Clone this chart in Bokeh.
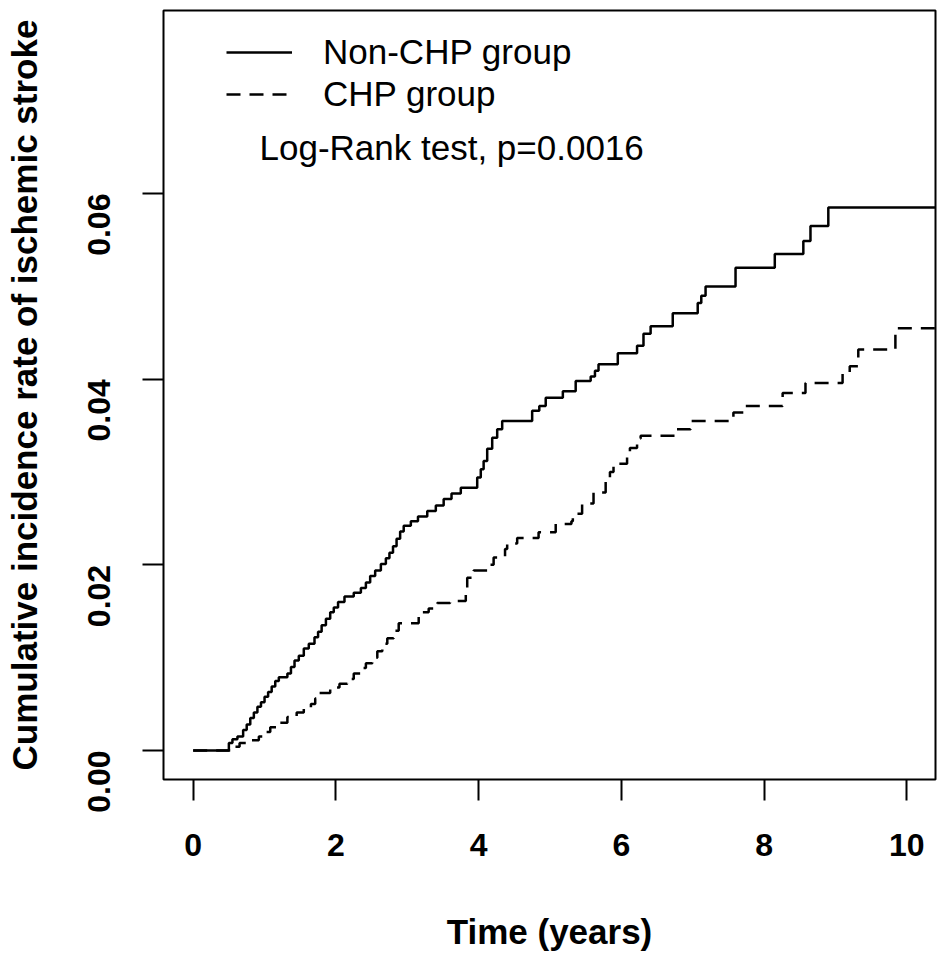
import math
from bokeh.plotting import figure
from bokeh.models import Range1d, Legend, LegendItem, Label, FixedTicker, PrintfTickFormatter
from bokeh.embed import file_html
from bokeh.resources import INLINE

# ---- data ----
time_non_chp = [0.00, 0.50, 0.55, 0.62, 0.70, 0.75, 0.80, 0.85, 0.90, 0.95, 1.00, 1.05, 1.10, 1.15, 1.20,
                1.32, 1.37, 1.42, 1.48, 1.55, 1.62, 1.70, 1.75, 1.80, 1.86, 1.92, 1.97, 2.03, 2.12, 2.25,
                2.35, 2.42, 2.48, 2.55, 2.63, 2.70, 2.75, 2.80, 2.85, 2.90, 2.95, 3.05, 3.15, 3.28, 3.40,
                3.51, 3.62, 3.75, 3.98, 4.03, 4.07, 4.12, 4.19, 4.26, 4.33, 4.75, 4.85, 4.94, 5.18, 5.36,
                5.57, 5.63, 5.68, 5.95, 6.22, 6.31, 6.41, 6.72, 7.07, 7.12, 7.18, 7.60, 8.15, 8.55, 8.65,
                8.90, 10.45]
cum_non_chp = [0.0000, 0.0008, 0.0012, 0.0015, 0.0022, 0.0028, 0.0035, 0.0041, 0.0047, 0.0052, 0.0058, 0.0063, 0.0069, 0.0075, 0.0079,
               0.0083, 0.0090, 0.0097, 0.0102, 0.0110, 0.0115, 0.0122, 0.0128, 0.0135, 0.0142, 0.0149, 0.0154, 0.0160, 0.0166, 0.0170,
               0.0175, 0.0181, 0.0188, 0.0194, 0.0201, 0.0207, 0.0213, 0.0220, 0.0228, 0.0236, 0.0242, 0.0247, 0.0252, 0.0258, 0.0264,
               0.0271, 0.0277, 0.0283, 0.0294, 0.0303, 0.0312, 0.0325, 0.0337, 0.0346, 0.0355, 0.0366, 0.0371, 0.0380, 0.0387, 0.0398,
               0.0403, 0.0409, 0.0416, 0.0428, 0.0436, 0.0449, 0.0457, 0.0471, 0.0482, 0.0490, 0.0500, 0.0520, 0.0535, 0.0549, 0.0565,
               0.0585, 0.0585]

time_chp = [0.00, 0.55, 0.65, 0.80, 0.92, 1.00, 1.08, 1.20, 1.32, 1.45, 1.55, 1.65, 1.71, 1.73, 1.92,
            2.05, 2.16, 2.25, 2.34, 2.42, 2.51, 2.58, 2.65, 2.72, 2.81, 2.88, 3.16, 3.30, 3.42, 3.60,
            3.82, 3.84, 3.93, 4.12, 4.21, 4.37, 4.40, 4.54, 4.84, 5.08, 5.30, 5.32, 5.45, 5.61, 5.78,
            5.84, 5.89, 6.08, 6.12, 6.22, 6.27, 6.76, 6.97, 7.57, 7.71, 8.26, 8.58, 9.10, 9.20, 9.32,
            9.84, 10.45]
cum_chp = [0.0000, 0.0004, 0.0008, 0.0011, 0.0015, 0.0020, 0.0025, 0.0030, 0.0036, 0.0041, 0.0045, 0.0050, 0.0056, 0.0062, 0.0068,
           0.0072, 0.0077, 0.0083, 0.0089, 0.0094, 0.0100, 0.0107, 0.0115, 0.0121, 0.0129, 0.0137, 0.0149, 0.0153, 0.0159, 0.0161,
           0.0175, 0.0186, 0.0194, 0.0200, 0.0208, 0.0217, 0.0223, 0.0229, 0.0235, 0.0244, 0.0247, 0.0255, 0.0266, 0.0278, 0.0290,
           0.0300, 0.0309, 0.0320, 0.0326, 0.0336, 0.0339, 0.0346, 0.0355, 0.0364, 0.0371, 0.0385, 0.0396, 0.0406, 0.0414, 0.0432,
           0.0455, 0.0455]

x_ticks = [0, 2, 4, 6, 8, 10]
y_ticks = [0.00, 0.02, 0.04, 0.06]
series_labels = ["Non-CHP group", "CHP group"]
test_text = "Log-Rank test, p=0.0016"
x_title = "Time (years)"
y_title = "Cumulative incidence rate of ischemic stroke"

FONT = "Liberation Sans"

p = figure(width=937, height=960, output_backend="svg", toolbar_location=None,
           x_range=Range1d(-0.416, 10.402), y_range=Range1d(-0.003124, 0.07972),
           min_border_left=163, min_border_right=2, min_border_top=10, min_border_bottom=181)
p.background_fill_color = "white"
p.border_fill_color = "white"
p.outline_line_color = "black"
p.outline_line_width = 2
p.xgrid.visible = False
p.ygrid.visible = False

r1 = p.step(time_non_chp, cum_non_chp, mode="after", line_color="black", line_width=2.5)
r2 = p.step(time_chp, cum_chp, mode="after", line_color="black", line_width=2.5, line_dash="14 9")

for ax in (p.xaxis[0], p.yaxis[0]):
    ax.axis_line_color = None
    ax.major_tick_line_color = "black"
    ax.major_tick_line_width = 2
    ax.major_tick_in = 0
    ax.major_tick_out = 21
    ax.minor_tick_line_color = None
    ax.major_label_text_font = FONT
    ax.major_label_text_font_style = "bold"
    ax.major_label_text_font_size = "32px"
    ax.major_label_text_color = "black"
    ax.axis_label_text_font = FONT
    ax.axis_label_text_font_style = "bold"
    ax.axis_label_text_font_size = "35px"
    ax.axis_label_text_color = "black"

p.xaxis[0].ticker = FixedTicker(ticks=x_ticks)
p.xaxis[0].major_label_standoff = 33
p.xaxis[0].axis_label = x_title
p.xaxis[0].axis_label_standoff = 53

p.yaxis[0].ticker = FixedTicker(ticks=y_ticks)
p.yaxis[0].formatter = PrintfTickFormatter(format="%.2f")
p.yaxis[0].major_label_orientation = math.pi / 2
p.yaxis[0].major_label_standoff = 43
p.yaxis[0].axis_label = y_title
p.yaxis[0].axis_label_standoff = 31

legend = Legend(items=[LegendItem(label=series_labels[0], renderers=[r1]),
                       LegendItem(label=series_labels[1], renderers=[r2])],
                location=(63, 665))
legend.background_fill_alpha = 0
legend.border_line_color = None
legend.padding = 0
legend.margin = 0
legend.glyph_width = 66
legend.glyph_height = 40
legend.label_height = 40
legend.spacing = 2
legend.label_standoff = 31
legend.label_text_font = FONT
legend.label_text_font_size = "35px"
legend.label_text_color = "black"
p.add_layout(legend)

p.add_layout(Label(x=0.929, y=0.06496, text=test_text, text_font=FONT, text_font_size="35px",
                   text_align="left", text_baseline="alphabetic", text_color="black"))

open("out.html", "w").write(file_html(p, INLINE))
